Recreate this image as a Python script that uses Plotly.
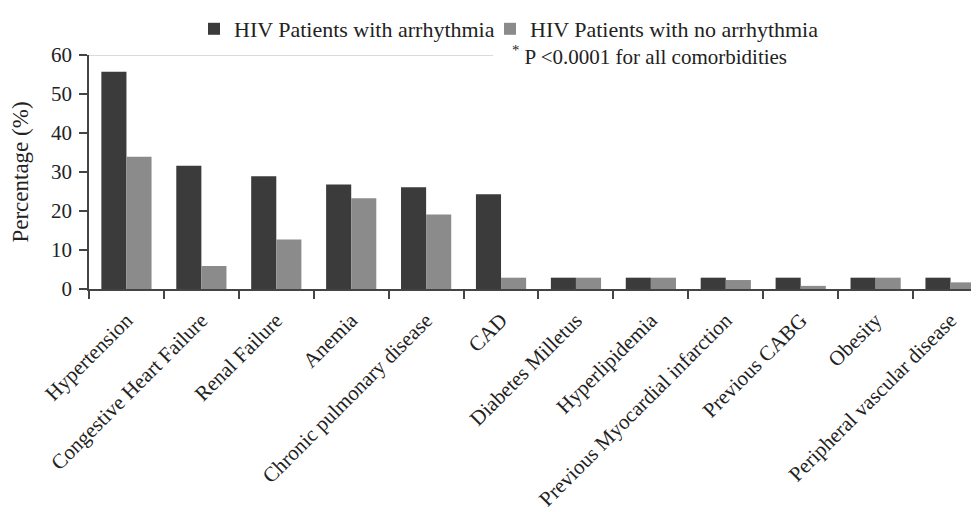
import plotly.graph_objects as go

categories = ["Hypertension", "Congestive Heart Failure", "Renal Failure", "Anemia",
              "Chronic pulmonary disease", "CAD", "Diabetes Milletus", "Hyperlipidemia",
              "Previous Myocardial infarction", "Previous CABG", "Obesity",
              "Peripheral vascular disease"]
with_arrhythmia = [55.7, 31.6, 28.9, 26.8, 26.1, 24.3, 2.9, 2.9, 2.9, 2.9, 2.9, 2.9]
no_arrhythmia = [33.9, 5.9, 12.7, 23.3, 19.1, 2.9, 2.9, 2.9, 2.3, 0.8, 2.9, 1.7]
y_ticks = [0, 10, 20, 30, 40, 50, 60]

FONT = "Liberation Serif"
W, H = 971, 504

fig = go.Figure()
fig.add_trace(go.Bar(x=categories, y=with_arrhythmia, name="HIV Patients with arrhythmia",
                     marker=dict(color="#3b3b3b", line=dict(width=0)), legend="legend"))
fig.add_trace(go.Bar(x=categories, y=no_arrhythmia, name="HIV Patients with no arrhythmia",
                     marker=dict(color="#8b8b8b", line=dict(width=0)), legend="legend2"))

legend_common = dict(orientation="h", xref="container", yref="container",
                     xanchor="left", y=1.0, yanchor="top",
                     font=dict(family=FONT, size=22, color="#222"),
                     itemwidth=30, bgcolor="rgba(0,0,0,0)")

fig.update_layout(
    width=W, height=H,
    margin=dict(l=81, r=0, t=47, b=223, autoexpand=False),
    paper_bgcolor="white", plot_bgcolor="white",
    font=dict(family=FONT, size=20, color="#222"),
    barmode="group", bargap=0.33, bargroupgap=0,
    showlegend=True,
    legend=dict(x=186 / W, **legend_common),
    legend2=dict(x=482 / W, **legend_common),
    xaxis=dict(type="category", range=[-0.5, 11.38], showgrid=False,
               showline=True, linecolor="#444", linewidth=1.5,
               ticks="outside", tickson="boundaries", ticklen=8, tickcolor="#444",
               tickwidth=1.5, tickangle=-45, ticklabelstandoff=9,
               tickfont=dict(family=FONT, size=21, color="#222"), automargin=False),
    yaxis=dict(range=[0, 60], tickvals=y_ticks, showgrid=False, zeroline=False,
               showline=True, linecolor="#444", linewidth=1.5,
               ticks="outside", ticklen=8, tickcolor="#444", tickwidth=1.5,
               ticklabelstandoff=3,
               tickfont=dict(family=FONT, size=21, color="#222"),
               title=dict(text="Percentage (%)", font=dict(family=FONT, size=23, color="#222"),
                          standoff=22),
               automargin=False),
)

fig.add_shape(type="line", xref="paper", yref="y", x0=0, x1=0.454, y0=60, y1=60,
              line=dict(color="#b5b5b5", width=1), layer="below")

fig.add_annotation(xref="paper", yref="y", x=0.4735, y=60, xanchor="left", yanchor="middle",
                   text="<sup>*</sup> P &lt;0.0001 for all comorbidities", showarrow=False,
                   font=dict(family=FONT, size=21, color="#222"))

fig.write_html("out.html")
